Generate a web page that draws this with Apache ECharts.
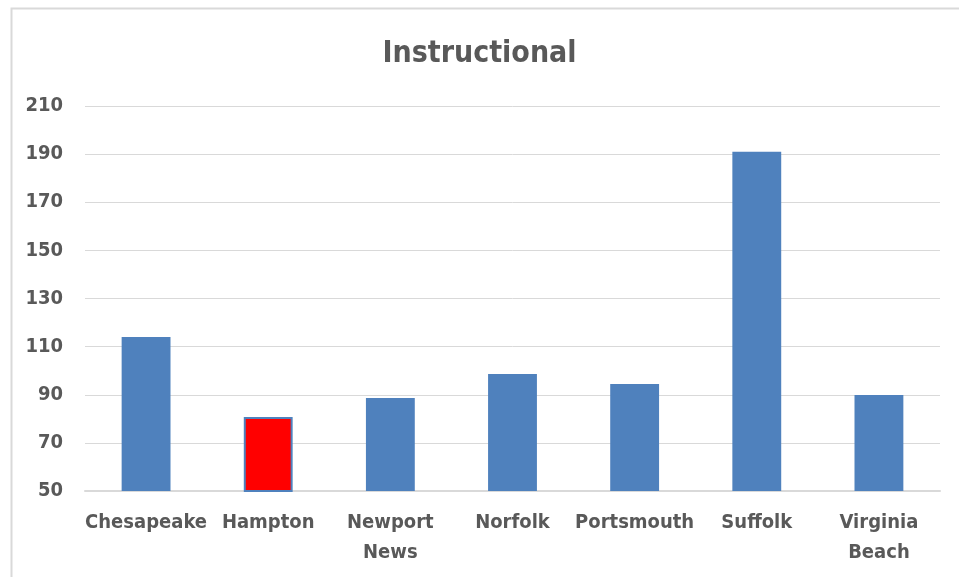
<!DOCTYPE html>
<html><head><meta charset="utf-8">
<script src="https://cdn.jsdelivr.net/npm/echarts@6/dist/echarts.min.js"></script>
<style>html,body{margin:0;padding:0;background:#fff}#c{width:959px;height:577px}</style>
</head><body><div id="c"></div>
<script>
const categories = ['Chesapeake', 'Hampton', 'Newport\nNews', 'Norfolk', 'Portsmouth', 'Suffolk', 'Virginia\nBeach'];
const values = [114.0, 80.8, 88.7, 98.6, 94.5, 191.0, 89.9];
const highlightIndex = 1;
const yMin = 50, yMax = 210, yStep = 20;

const font = '"DejaVu Sans Condensed", "Liberation Sans Narrow", sans-serif';
const chart = echarts.init(document.getElementById('c'), null, {renderer: 'canvas'});
chart.setOption({
  animation: false,
  backgroundColor: '#fff',
  title: {
    text: 'Instructional', left: 'center', top: 34,
    textStyle: {fontFamily: font, fontSize: 30, fontWeight: 'bold', color: '#595959'}
  },
  graphic: [{
    type: 'rect', left: 9, top: 6, shape: {width: 980, height: 600},
    style: {fill: 'none', stroke: '#d9d9d9', lineWidth: 2}, silent: true
  }],
  grid: {left: 85, right: 19, top: 106, bottom: 86},
  xAxis: {
    type: 'category', data: categories,
    axisLine: {lineStyle: {color: '#d9d9d9', width: 2}},
    axisTick: {show: false},
    axisLabel: {fontFamily: font, fontSize: 20, fontWeight: 'bold', color: '#595959', margin: 17, lineHeight: 30, interval: 0}
  },
  yAxis: {
    type: 'value', min: yMin, max: yMax, interval: yStep,
    axisLine: {show: false}, axisTick: {show: false},
    splitLine: {lineStyle: {color: '#d9d9d9', width: 1}},
    axisLabel: {fontFamily: font, fontSize: 20, fontWeight: 'bold', color: '#595959', margin: 22}
  },
  series: [{
    type: 'bar', barWidth: '40%',
    data: values.map((v, i) => i === highlightIndex
      ? {value: v, itemStyle: {color: '#ff0000', borderColor: '#4f81bd', borderWidth: 2}}
      : {value: v}),
    itemStyle: {color: '#4f81bd'}
  }]
});
</script></body></html>
